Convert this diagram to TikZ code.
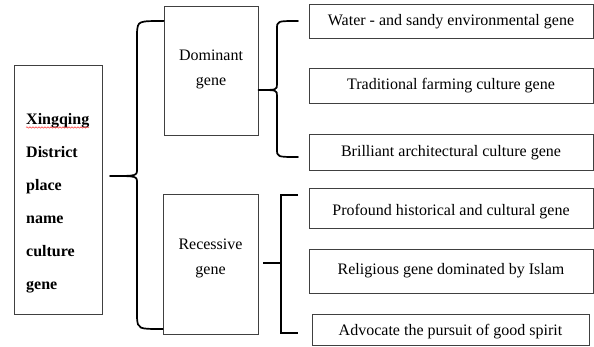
\documentclass[tikz,border=0pt]{standalone}
\usepackage{fontspec}
\setmainfont{Liberation Serif}
\usetikzlibrary{decorations.pathmorphing}
\begin{document}
\begin{tikzpicture}[x=1pt,y=-1pt,
  box/.style={draw=black!75,line width=0.7pt,inner sep=0pt,fill=white},
  txt/.style={font=\fontsize{16}{25}\selectfont,align=center},
  brace/.style={line width=1.7pt,line join=round,line cap=round}]
\useasboundingbox[fill=white] (0,0) rectangle (594,347);
% left root
\node[box,minimum width=88pt,minimum height=249pt] (root) at (58,189.5) {};
\node[anchor=west,align=left,inner sep=0pt,font=\bfseries\fontsize{16}{33}\selectfont] (roottxt) at (26,203.5)
  {Xingqing\\District\\place\\name\\culture\\gene};
\draw[red!80,line width=0.5pt,decorate,decoration={snake,amplitude=0.7pt,segment length=3pt}] (26,127.5) -- (89,127.5);
% middle boxes
\node[box,minimum width=94pt,minimum height=129pt] (dom) at (211,70.5) {};
\node[txt] (domtxt) at (211,69.5) {Dominant\\gene};
\node[box,minimum width=95pt,minimum height=140pt] (rec) at (210.5,264) {};
\node[txt] (rectxt) at (210.5,258) {Recessive\\gene};
% right boxes
\node[box,minimum width=284pt,minimum height=34pt] (r1) at (451,21) {};
\node[txt] at (451,22) {Water - and sandy environmental gene};
\node[box,minimum width=284pt,minimum height=35pt] (r2) at (451,85.5) {};
\node[txt] at (451,86) {Traditional farming culture gene};
\node[box,minimum width=284pt,minimum height=36pt] (r3) at (451,152) {};
\node[txt] at (451,153) {Brilliant architectural culture gene};
\node[box,minimum width=284pt,minimum height=40pt] (r4) at (451,208) {};
\node[txt] at (451,212) {Profound historical and cultural gene};
\node[box,minimum width=284pt,minimum height=44pt] (r5) at (451,271) {};
\node[txt] at (451,271) {Religious gene dominated by Islam};
\node[box,minimum width=277pt,minimum height=31pt] (r6) at (450.5,329.5) {};
\node[txt] at (450.5,332) {Advocate the pursuit of good spirit};
% big brace
\coordinate (bT) at (dom.west |- 0,21);
\coordinate (bB) at (rec.west |- 0,329);
\coordinate (bM) at (110,176);
\draw[brace] (bT) .. controls (138,21) .. (137,32) -- (137,169)
  .. controls (137,176) .. (bM) .. controls (137,176) .. (137,183)
  -- (137,318) .. controls (138,329) .. (bB);
% dominant brace
\coordinate (dT) at (298,21);
\coordinate (dB) at (298,157);
\draw[brace] (dT) .. controls (277,21) .. (277,29) -- (277,84)
  .. controls (277,90) .. (dom.east |- 0,90) .. controls (277,90) .. (277,96)
  -- (277,149) .. controls (277,157) .. (dB);
% recessive bracket
\coordinate (eT) at (298,195);
\coordinate (eB) at (298,333);
\coordinate (eM) at (263,263);
\draw[brace,line cap=butt,line join=miter] (eT) -- (281,195) -- (281,333) -- (eB);
\draw[brace,line cap=butt] (eM) -- (281,263);
\end{tikzpicture}
\end{document}
